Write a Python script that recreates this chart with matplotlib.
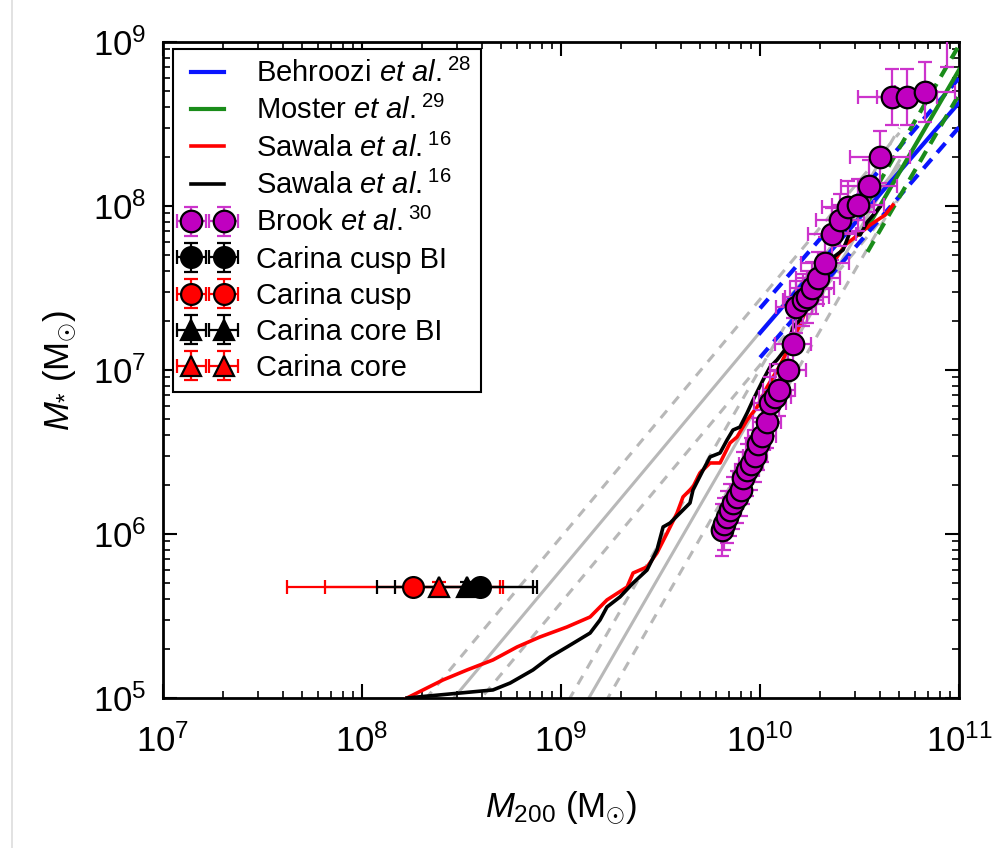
import numpy as np
import matplotlib
matplotlib.use('Agg')
import matplotlib.pyplot as plt
from matplotlib.lines import Line2D

plt.rcParams['font.family'] = ['Liberation Sans', 'DejaVu Sans']
plt.rcParams['mathtext.fontset'] = 'custom'
plt.rcParams['mathtext.rm'] = 'Liberation Sans'
plt.rcParams['mathtext.it'] = 'Liberation Sans:italic'
plt.rcParams['mathtext.bf'] = 'Liberation Sans:bold'

# --- Дані (log10 значення) ---
# сірі відношення: (log M200, log M*) на кінцях, розкид у dex
gray1_lx = [8.20, 10.70]
gray1_ly = [4.621, 8.246]
gray2_lx = [8.90, 10.70]
gray2_ly = [4.496, 8.276]
gray_scatter = 0.2

behroozi_lx = [10.0, 11.0]
behroozi_ly = [7.226, 8.63]
behroozi_scatter = 0.15

moster_lx = [10.54, 11.0]
moster_ly = [7.87, 8.83]
moster_scatter = 0.15

sawala_red_lx = [8.226, 8.407, 8.528, 8.658, 8.779, 8.894, 9.030, 9.146, 9.231, 9.332,
                 9.362, 9.432, 9.482, 9.533, 9.583, 9.613, 9.663, 9.698, 9.749, 9.799,
                 9.849, 9.884, 9.935, 9.985, 10.035, 10.101, 10.151, 10.201, 10.251,
                 10.317, 10.377, 10.427, 10.492, 10.553, 10.628, 10.668]
sawala_red_ly = [5.0, 5.110, 5.171, 5.232, 5.311, 5.372, 5.433, 5.494, 5.598, 5.677,
                 5.762, 5.799, 5.884, 6.006, 6.128, 6.226, 6.287, 6.372, 6.433, 6.433,
                 6.555, 6.591, 6.695, 6.774, 6.896, 7.030, 7.152, 7.274, 7.427,
                 7.518, 7.671, 7.762, 7.823, 7.884, 7.945, 8.006]

sawala_black_lx = [8.226, 8.658, 8.744, 8.859, 8.945, 9.030, 9.146, 9.196, 9.231, 9.296,
                   9.362, 9.432, 9.482, 9.513, 9.548, 9.598, 9.648, 9.663, 9.714, 9.749,
                   9.799, 9.834, 9.864, 9.899, 9.935, 9.965, 10.015, 10.050, 10.085,
                   10.136, 10.166, 10.201, 10.236, 10.286, 10.337, 10.417, 10.452,
                   10.503, 10.538, 10.603]
sawala_black_ly = [5.0, 5.049, 5.091, 5.171, 5.250, 5.311, 5.396, 5.476, 5.555, 5.616,
                   5.701, 5.780, 5.902, 6.043, 6.067, 6.128, 6.189, 6.268, 6.390, 6.470,
                   6.494, 6.573, 6.634, 6.652, 6.738, 6.817, 6.939, 7.018, 7.061,
                   7.140, 7.262, 7.305, 7.384, 7.518, 7.659, 7.732, 7.841,
                   7.823, 7.902, 7.994]

brook_lx = [9.809, 9.819, 9.834, 9.849, 9.864, 9.884, 9.905, 9.915, 9.935, 9.955,
            9.975, 9.990, 10.010, 10.035, 10.050, 10.075, 10.095, 10.141, 10.166, 10.181,
            10.216, 10.236, 10.261, 10.291, 10.327, 10.362, 10.402, 10.442, 10.492,
            10.548, 10.603, 10.663, 10.739, 10.829, 10.94]
brook_ly = [6.024, 6.061, 6.104, 6.146, 6.189, 6.226, 6.268, 6.341, 6.390, 6.427,
            6.476, 6.549, 6.598, 6.683, 6.799, 6.835, 6.878, 7.000, 7.159, 7.384,
            7.427, 7.445, 7.500, 7.561, 7.652, 7.829, 7.915, 7.994, 8.006,
            8.122, 8.299, 8.665, 8.665, 8.695, 9.30]
brook_xerr = [0.04, 0.04, 0.04, 0.05, 0.05, 0.05, 0.05, 0.05, 0.06, 0.06,
              0.06, 0.06, 0.07, 0.07, 0.08, 0.08, 0.08, 0.09, 0.09, 0.10,
              0.10, 0.11, 0.11, 0.11, 0.12, 0.12, 0.12, 0.13, 0.13,
              0.14, 0.15, 0.17, 0.15, 0.15, 0.15]
brook_yerr = [0.16, 0.16, 0.16, 0.16, 0.16, 0.16, 0.16, 0.16, 0.16, 0.16,
              0.16, 0.16, 0.16, 0.16, 0.16, 0.16, 0.16, 0.16, 0.16, 0.16,
              0.16, 0.16, 0.16, 0.16, 0.16, 0.16, 0.16, 0.16, 0.16,
              0.16, 0.16, 0.17, 0.17, 0.18, 0.45]

carina_ly = 5.677
carina_labels = ['Carina cusp BI', 'Carina cusp', 'Carina core BI', 'Carina core']
carina_lx = [8.593, 8.256, 8.528, 8.387]
carina_lo = [8.166, 7.623, 8.075, 7.814]
carina_hi = [8.879, 8.693, 8.859, 8.709]
carina_colors = ['black', 'red', 'black', 'red']
carina_markers = ['o', 'o', '^', '^']


def asym(lv, lo, hi):
    v = 10.0 ** np.asarray(lv)
    return [v - 10.0 ** np.asarray(lo), 10.0 ** np.asarray(hi) - v]


def etal(name, ref):
    return name + r' $\mathit{et\ al.}$' + r'$^{\mathit{' + ref + '}}$'


fig = plt.figure(figsize=(10.03, 8.48), dpi=100)
ax = fig.add_axes([0.1625, 0.1769, 0.7937, 0.7736])
fig.add_artist(Line2D([0.012, 0.012], [0, 1], color='#dddddd', lw=1.2))

# --- сірі відношення ---
gray_dash = (0, (3.2, 2.8))
for lx, ly in [(gray1_lx, gray1_ly), (gray2_lx, gray2_ly)]:
    x = 10.0 ** np.array(lx)
    ly = np.array(ly)
    ax.plot(x, 10.0 ** ly, color='#b8b8b8', lw=2.2, zorder=1)
    ax.plot(x, 10.0 ** (ly + gray_scatter), color='#b8b8b8', lw=2.2, ls=gray_dash, zorder=1)
    ax.plot(x, 10.0 ** (ly - gray_scatter), color='#b8b8b8', lw=2.2, ls=gray_dash, zorder=1)

# --- Behroozi та Moster ---
col_dash = (0, (3.0, 2.0))
handles = []
for lx, ly, sc, col, lab in [(behroozi_lx, behroozi_ly, behroozi_scatter, '#0a14ff',
                              etal('Behroozi', '28')),
                             (moster_lx, moster_ly, moster_scatter, '#1a8c1a',
                              etal('Moster', '29'))]:
    x = 10.0 ** np.array(lx)
    ly = np.array(ly)
    h, = ax.plot(x, 10.0 ** ly, color=col, lw=3.0, zorder=3, label=lab)
    ax.plot(x, 10.0 ** (ly + sc), color=col, lw=3.0, ls=col_dash, zorder=3)
    ax.plot(x, 10.0 ** (ly - sc), color=col, lw=3.0, ls=col_dash, zorder=3)
    handles.append(h)

# --- Sawala ---
h, = ax.plot(10.0 ** np.array(sawala_red_lx), 10.0 ** np.array(sawala_red_ly),
             color='red', lw=2.6, zorder=4, label=etal('Sawala', '16'))
handles.append(h)
h, = ax.plot(10.0 ** np.array(sawala_black_lx), 10.0 ** np.array(sawala_black_ly),
             color='black', lw=2.6, zorder=4, label=etal('Sawala', '16'))
handles.append(h)

# --- Brook ---
blx = np.array(brook_lx)
bly = np.array(brook_ly)
bx = np.array(brook_xerr)
by = np.array(brook_yerr)
h = ax.errorbar(10.0 ** blx, 10.0 ** bly,
                xerr=asym(blx, blx - bx, blx + bx), yerr=asym(bly, bly - by, bly + by),
                fmt='o', ms=15.5, mfc='#c000c0', mec='black', mew=1.6,
                ecolor='#cc33cc', elinewidth=1.6, capsize=5, capthick=1.6, zorder=5,
                label=etal('Brook', '30'))
handles.append(h)

# --- Carina ---
carina_handles = {}
for i in [1, 3, 0, 2]:
    lx = carina_lx[i]
    h = ax.errorbar([10.0 ** lx], [10.0 ** carina_ly],
                    xerr=asym([lx], [carina_lo[i]], [carina_hi[i]]),
                    yerr=asym([carina_ly], [carina_ly - 0.03], [carina_ly + 0.03]),
                    fmt=carina_markers[i], ms=15, mfc=carina_colors[i], mec='black',
                    mew=1.6, ecolor=carina_colors[i], elinewidth=1.6, capsize=5,
                    capthick=1.6, zorder=6, label=carina_labels[i])
    carina_handles[i] = h
handles += [carina_handles[i] for i in range(4)]

ax.set_xscale('log')
ax.set_yscale('log')
ax.set_xlim(1e7, 1e11)
ax.set_ylim(1e5, 1e9)

ax.tick_params(which='both', direction='in', top=True, right=True, labelsize=25)
ax.tick_params(which='major', length=10, width=1.5)
ax.tick_params(axis='x', which='major', pad=19)
ax.tick_params(axis='y', which='major', pad=12)
ax.tick_params(which='minor', length=5, width=1.2)
for s in ax.spines.values():
    s.set_linewidth(2)

ax.set_xlabel(r'$M_{200}$ (M$_{\odot}$)', fontsize=25, labelpad=22)
ax.set_ylabel(r'$M_{*}$ (M$_{\odot}$)', fontsize=25, labelpad=10)

leg = ax.legend(handles=handles, loc='upper left', bbox_to_anchor=(0.012, 0.99),
                fontsize=21, numpoints=2, frameon=True, fancybox=False,
                edgecolor='black', framealpha=1, handlelength=1.7, handletextpad=0.8,
                labelspacing=0.28, borderpad=0.35, borderaxespad=0)
leg.get_frame().set_linewidth(1.5)

fig.savefig('out.png', dpi=100)
